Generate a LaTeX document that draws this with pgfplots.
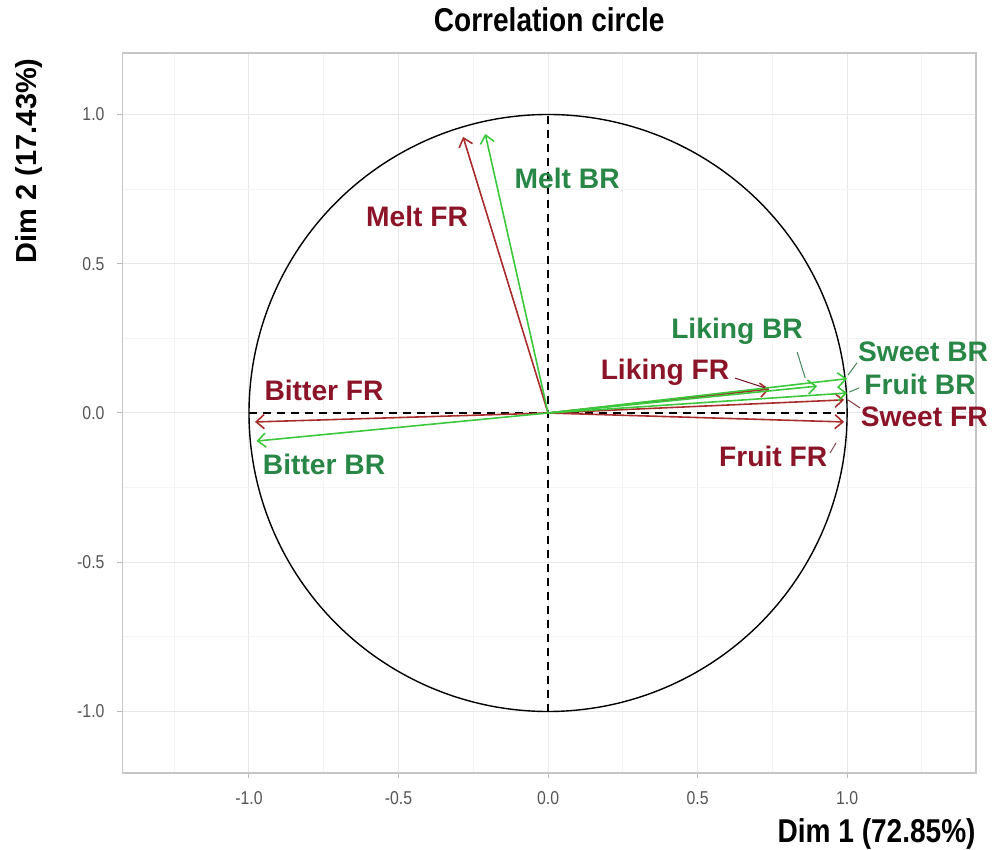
\documentclass[border=0pt]{standalone}
\usepackage{fontspec}
\setmainfont{Liberation Sans}
\newfontfamily\narrowfont[FakeStretch=0.85]{Liberation Sans}
\usepackage{pgfplots}
\pgfplotsset{compat=1.18}
\usetikzlibrary{arrows.meta}
\definecolor{arrG}{RGB}{60,200,60}
\definecolor{arrR}{RGB}{170,45,45}
\definecolor{labG}{RGB}{40,135,70}
\definecolor{labR}{RGB}{140,20,40}
\definecolor{tickgray}{RGB}{85,85,85}
\begin{document}
\begin{tikzpicture}
\begin{axis}[
  name=ax,
  scale only axis,
  width=426.75bp, height=360bp,
  xmin=-1.423, xmax=1.431, ymin=-1.206, ymax=1.206,
  axis line style={draw=gray!45, line width=0.6bp},
  xtick={-1,-0.5,0,0.5,1}, ytick={-1,-0.5,0,0.5,1},
  xticklabels={-1.0,-0.5,0.0,0.5,1.0},
  yticklabels={-1.0,-0.5,0.0,0.5,1.0},
  minor xtick={-1.25,-0.75,-0.25,0.25,0.75,1.25},
  minor ytick={-1.25,-0.75,-0.25,0.25,0.75,1.25},
  grid=both,
  major grid style={draw=gray!18, line width=0.5bp},
  minor grid style={draw=gray!9, line width=0.4bp},
  tick align=outside,
  major tick length=2.5bp, minor tick length=0pt,
  tick style={draw=gray!55, line width=0.5bp},
  xtick pos=bottom, ytick pos=left,
  ticklabel style={font=\narrowfont\fontsize{9.3bp}{11bp}\selectfont, text=tickgray},
  xticklabel style={yshift=-3bp},
  yticklabel style={xshift=-3bp},
  clip=false,
  axis on top=false,
]
% unit circle (reference geometry)
\addplot[black, line width=0.7bp, domain=0:360, samples=181, smooth] ({cos(x)},{sin(x)});
% dashed axes
\addplot[black, dashed, line width=0.7bp, dash pattern=on 4bp off 3bp] coordinates {(-1,0) (1,0)};
\addplot[black, dashed, line width=0.7bp, dash pattern=on 4bp off 3bp] coordinates {(0,-1) (0,1)};
% arrows FR
\addplot[arrR, line width=0.8bp, -{Straight Barb[length=4bp,width=7bp]}] coordinates {(0,0) (-0.284,0.925)};
\addplot[arrR, line width=0.8bp, -{Straight Barb[length=4bp,width=7bp]}] coordinates {(0,0) (0.74,0.08)};
\addplot[arrR, line width=0.8bp, -{Straight Barb[length=4bp,width=7bp]}] coordinates {(0,0) (0.99,0.044)};
\addplot[arrR, line width=0.8bp, -{Straight Barb[length=4bp,width=7bp]}] coordinates {(0,0) (0.99,-0.03)};
\addplot[arrR, line width=0.8bp, -{Straight Barb[length=4bp,width=7bp]}] coordinates {(0,0) (-0.98,-0.03)};
% arrows BR
\addplot[arrG, line width=0.8bp, -{Straight Barb[length=4bp,width=7bp]}] coordinates {(0,0) (-0.21,0.935)};
\addplot[arrG, line width=0.8bp, -{Straight Barb[length=4bp,width=7bp]}] coordinates {(0,0) (0.90,0.09)};
\addplot[arrG, line width=0.8bp, -{Straight Barb[length=4bp,width=7bp]}] coordinates {(0,0) (1.0,0.115)};
\addplot[arrG, line width=0.8bp, -{Straight Barb[length=4bp,width=7bp]}] coordinates {(0,0) (1.0,0.067)};
\addplot[arrG, line width=0.8bp, -{Straight Barb[length=4bp,width=7bp]}] coordinates {(0,0) (-0.975,-0.094)};
% leader lines
\addplot[labR!80!black, line width=0.5bp] coordinates {(0.625,0.117) (0.726,0.084)};
\addplot[labG!70!gray, line width=0.5bp] coordinates {(0.833,0.204) (0.860,0.117)};
\addplot[labG!70!gray, line width=0.5bp] coordinates {(1.033,0.168) (1.003,0.127)};
\addplot[labG!70!gray, line width=0.5bp] coordinates {(1.040,0.084) (1.007,0.070)};
\addplot[labR!70!gray, line width=0.5bp] coordinates {(1.043,0.017) (1.003,0.044)};
\addplot[labR!50!gray, line width=0.5bp] coordinates {(0.943,-0.134) (0.963,-0.10)};
% labels
\begin{scope}[every node/.style={font=\bfseries\fontsize{14.1bp}{16bp}\selectfont, inner sep=0pt}]
\node[text=labG] at (axis cs:0.064,0.787) {Melt BR};
\node[text=labR] at (axis cs:-0.438,0.66) {Melt FR};
\node[text=labG] at (axis cs:0.632,0.275) {Liking BR};
\node[text=labR] at (axis cs:0.391,0.137) {Liking FR};
\node[text=labG] at (axis cs:1.254,0.204) {Sweet BR};
\node[text=labG] at (axis cs:1.244,0.097) {Fruit BR};
\node[text=labR] at (axis cs:1.258,-0.013) {Sweet FR};
\node[text=labR] at (axis cs:0.753,-0.147) {Fruit FR};
\node[text=labR] at (axis cs:-0.749,0.074) {Bitter FR};
\node[text=labG] at (axis cs:-0.749,-0.171) {Bitter BR};
\end{scope}
% titles
\node[anchor=base, font=\narrowfont\bfseries\fontsize{16.5bp}{18bp}\selectfont, inner sep=0pt] at ([yshift=10.5bp]rel axis cs:0.5,1) {Correlation circle};
\node[anchor=base east, font=\narrowfont\bfseries\fontsize{16.5bp}{18bp}\selectfont, inner sep=0pt] at ([yshift=-34.5bp]rel axis cs:1,0) {Dim 1 (72.85\%)};
\node[anchor=base east, rotate=90, font=\bfseries\fontsize{14.5bp}{18bp}\selectfont, inner sep=0pt] at ([xshift=-42.75bp,yshift=-2.5bp]rel axis cs:0,1) {Dim 2 (17.43\%)};
\end{axis}
\pgfresetboundingbox
\path ([shift={(-61.25bp,-38.5bp)}]ax.south west) rectangle ([shift={(8.5bp,26.5bp)}]ax.north east);
\end{tikzpicture}
\end{document}
